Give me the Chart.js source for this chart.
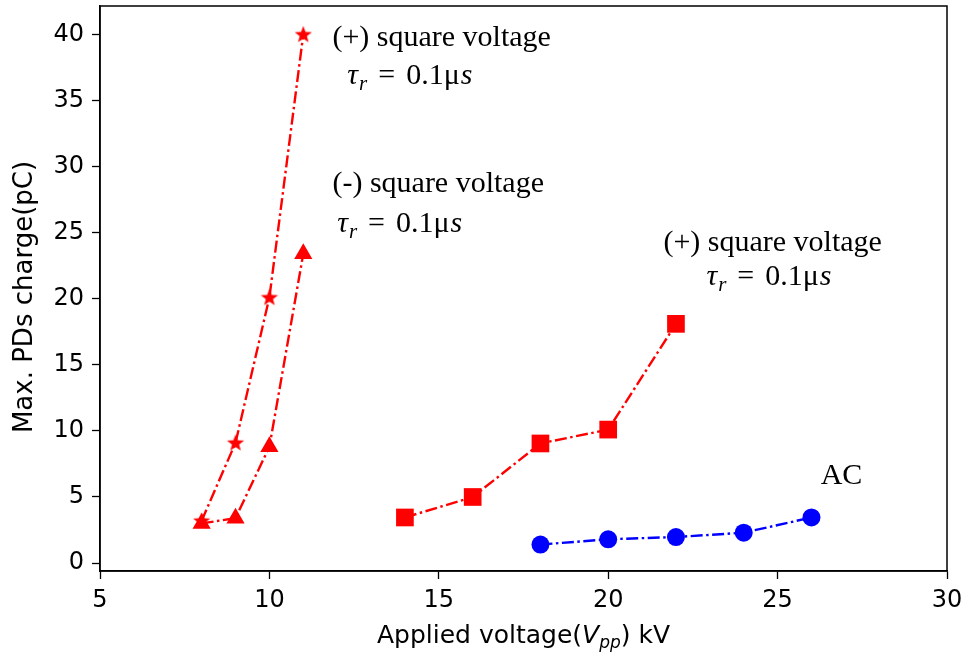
<!DOCTYPE html>
<html>
<head>
<meta charset="utf-8">
<script src="https://cdn.jsdelivr.net/npm/chart.js@4.4.0/dist/chart.umd.min.js"></script>
<style>
  html, body { margin: 0; padding: 0; background: #fff; }
  #wrap { width: 971px; height: 655px; }
</style>
</head>
<body>
<div id="wrap"><canvas id="c"></canvas></div>
<script>
// values
const posSqX = [8, 9, 10, 11];
const posSqQ = [3.2, 9.1, 20.1, 40];
const negSqX = [8, 9, 10, 11];
const negSqQ = [3.0, 3.4, 8.8, 23.4];
const posSq2X = [14, 16, 18, 20, 22];
const posSq2Q = [3.45, 5.0, 9.05, 10.1, 18.1];
const acX = [18, 20, 22, 24, 26];
const acQ = [1.4, 1.8, 1.97, 2.3, 3.45];

const xTicks = [5, 10, 15, 20, 25, 30];
const yTicks = [0, 5, 10, 15, 20, 25, 30, 35, 40];

// text notes, anchored in data units (left edge, vertical middle)
const notes = [
  { kind: 'text', text: '(+) square voltage', x: 11.86, y: 39.7 },
  { kind: 'tau', x: 12.3, y: 37.0 },
  { kind: 'text', text: '(-) square voltage', x: 11.86, y: 28.66 },
  { kind: 'tau', x: 12.0, y: 25.8 },
  { kind: 'text', text: '(+) square voltage', x: 21.63, y: 24.2 },
  { kind: 'tau', x: 22.9, y: 21.8 },
  { kind: 'text', text: 'AC', x: 26.27, y: 6.58 }
];

const RED = '#ff0000';
const BLUE = '#0000ff';
const SERIF = '"Liberation Serif", "Times New Roman", serif';
const SANS = '"DejaVu Sans", sans-serif';
const PLOT_TOP = 6;

const pts = (xs, ys) => xs.map((x, i) => ({ x: x, y: ys[i] }));

// filled 5-point star like matplotlib '*'
const star = document.createElement('canvas');
star.width = 20; star.height = 20;
(function () {
  const g = star.getContext('2d');
  g.fillStyle = RED;
  g.beginPath();
  for (let i = 0; i < 10; i++) {
    const r = i % 2 === 0 ? 9 : 3.8;
    const a = -Math.PI / 2 + i * Math.PI / 5;
    const px = 10 + r * Math.cos(a), py = 10.5 + r * Math.sin(a);
    if (i === 0) g.moveTo(px, py); else g.lineTo(px, py);
  }
  g.closePath();
  g.fill();
})();

const dash = [12, 3.5, 2.5, 3.5];
const line = (data, color, style, radius) => ({
  data: data,
  showLine: true,
  borderColor: color,
  backgroundColor: color,
  borderWidth: 2.4,
  borderDash: dash,
  pointStyle: style,
  pointRadius: radius,
  pointHoverRadius: radius,
  pointBackgroundColor: color,
  pointBorderWidth: 0
});

function drawTau(ctx, x, yMid) {
  const base = yMid + 10;
  ctx.textAlign = 'left';
  ctx.textBaseline = 'alphabetic';
  ctx.fillStyle = '#000';
  ctx.font = 'italic 30px ' + SERIF;
  ctx.fillText('τ', x, base);
  x += ctx.measureText('τ').width + 1;
  ctx.font = 'italic 21px ' + SERIF;
  ctx.fillText('r', x, base + 6);
  x += ctx.measureText('r').width + 11;
  ctx.font = '30px ' + SERIF;
  ctx.fillText('=', x, base);
  x += ctx.measureText('=').width + 11;
  ctx.fillText('0.1μ', x, base);
  x += ctx.measureText('0.1μ').width + 1;
  ctx.font = 'italic 30px ' + SERIF;
  ctx.fillText('s', x, base);
}

const extras = {
  id: 'extras',
  // pull the plot top up to where the reference has it
  afterLayout(chart) {
    const a = chart.chartArea;
    const ys = chart.scales.y;
    a.top = PLOT_TOP;
    a.height = a.bottom - a.top;
    ys.top = PLOT_TOP;
    ys.height = ys.bottom - ys.top;
    ys.configure();
  },
  afterDraw(chart) {
    const ctx = chart.ctx;
    const a = chart.chartArea;
    const xs = chart.scales.x, ys = chart.scales.y;
    ctx.save();
    // frame
    ctx.strokeStyle = '#000';
    ctx.lineWidth = 1.5;
    ctx.strokeRect(a.left, a.top, a.right - a.left, a.bottom - a.top);

    // y title
    ctx.fillStyle = '#000';
    ctx.save();
    ctx.translate(25, 297);
    ctx.rotate(-Math.PI / 2);
    ctx.font = '26px ' + SANS;
    ctx.textAlign = 'center';
    ctx.textBaseline = 'middle';
    ctx.fillText('Max. PDs charge(pC)', 0, 0);
    ctx.restore();

    // x title with subscript
    const parts = [
      { t: 'Applied voltage(', f: '25px ' + SANS, dy: 0 },
      { t: 'V', f: 'italic 25px ' + SANS, dy: 0 },
      { t: 'pp', f: 'italic 17px ' + SANS, dy: 5 },
      { t: ') kV', f: '25px ' + SANS, dy: 0 }
    ];
    let w = 0;
    parts.forEach(p => { ctx.font = p.f; p.w = ctx.measureText(p.t).width; w += p.w; });
    let cx = (a.left + a.right) / 2 - w / 2;
    ctx.textAlign = 'left';
    ctx.textBaseline = 'alphabetic';
    parts.forEach(p => { ctx.font = p.f; ctx.fillText(p.t, cx, 643 + p.dy); cx += p.w; });

    // notes
    notes.forEach(n => {
      const px = xs.getPixelForValue(n.x);
      const py = ys.getPixelForValue(n.y);
      if (n.kind === 'tau') {
        drawTau(ctx, px, py);
      } else {
        ctx.font = '30px ' + SERIF;
        ctx.textAlign = 'left';
        ctx.textBaseline = 'middle';
        ctx.fillText(n.text, px, py);
      }
    });
    ctx.restore();
  }
};

new Chart(document.getElementById('c'), {
  type: 'scatter',
  data: {
    datasets: [
      line(pts(posSqX, posSqQ), RED, star, 9),
      line(pts(negSqX, negSqQ), RED, 'triangle', 10.5),
      line(pts(posSq2X, posSq2Q), RED, 'rect', 12.5),
      line(pts(acX, acQ), BLUE, 'circle', 9)
    ]
  },
  options: {
    responsive: true,
    maintainAspectRatio: false,
    animation: false,
    layout: { padding: { left: 0, top: 6, right: 24, bottom: 0 } },
    plugins: { legend: { display: false }, tooltip: { enabled: false } },
    scales: {
      x: {
        type: 'linear',
        min: 5, max: 30,
        afterBuildTicks: s => { s.ticks = xTicks.map(v => ({ value: v })); },
        afterFit: s => { s.height = 84; },
        grid: { drawOnChartArea: false, drawTicks: true, tickLength: 8, tickColor: '#000', tickWidth: 1.3 },
        border: { display: true, color: '#000', width: 1.5 },
        ticks: { color: '#000', font: { family: 'DejaVu Sans', size: 24 }, padding: 7, maxRotation: 0, autoSkip: false }
      },
      y: {
        type: 'linear',
        min: -0.6, max: 42.15,
        afterBuildTicks: s => { s.ticks = yTicks.map(v => ({ value: v })); },
        afterFit: s => { s.width = 100; },
        grid: { drawOnChartArea: false, drawTicks: true, tickLength: 8, tickColor: '#000', tickWidth: 1.3 },
        border: { display: true, color: '#000', width: 1.5 },
        ticks: { color: '#000', font: { family: 'DejaVu Sans', size: 24 }, padding: 8, autoSkip: false }
      }
    }
  },
  plugins: [extras]
});
</script>
</body>
</html>
